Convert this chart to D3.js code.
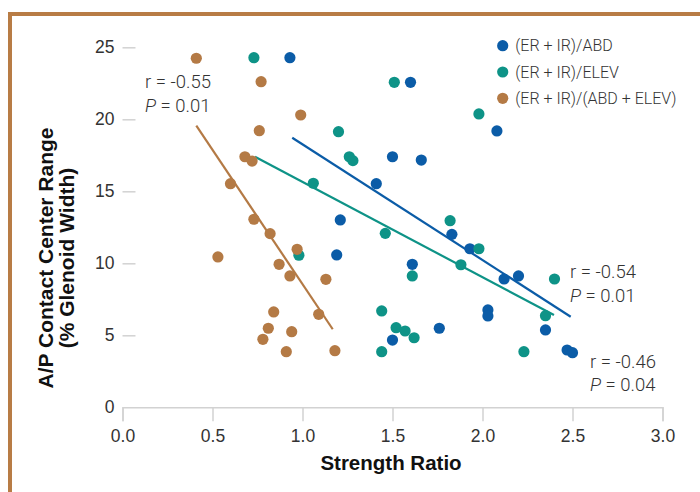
<!DOCTYPE html>
<html>
<head>
<meta charset="utf-8">
<script src="https://cdn.jsdelivr.net/npm/d3@7"></script>
<style>
  body { margin: 0; background: #fff; }
  svg { display: block; font-family: Roboto, "Liberation Sans", sans-serif; }
</style>
</head>
<body>
<script>
// series names (legend order)
const seriesNames = ["(ER + IR)/ABD", "(ER + IR)/ELEV", "(ER + IR)/(ABD + ELEV)"];
const seriesColors = ["#0b5ca7", "#0e9387", "#b47a45"];

// [strength ratio, contact center range]
const abd = [
  [0.93, 24.28], [1.60, 22.57], [2.08, 19.19], [1.50, 17.40], [1.66, 17.17],
  [1.41, 15.53], [1.21, 13.01], [1.83, 12.01], [1.93, 11.01], [1.19, 10.58],
  [1.61, 9.93], [2.12, 8.91], [2.20, 9.12], [2.03, 6.76], [2.03, 6.34],
  [1.76, 5.49], [2.35, 5.37], [1.50, 4.67], [2.47, 3.98], [2.50, 3.79]
];
const elev = [
  [0.73, 24.28], [1.51, 22.57], [1.98, 20.37], [1.20, 19.14], [1.26, 17.40],
  [1.28, 17.13], [1.06, 15.56], [1.82, 12.96], [1.46, 12.08], [1.98, 11.01],
  [0.98, 10.56], [1.61, 9.12], [1.88, 9.90], [2.40, 8.91], [1.44, 6.69],
  [2.35, 6.36], [1.52, 5.53], [1.57, 5.30], [1.62, 4.83], [1.44, 3.86],
  [2.23, 3.86]
];
const abdElev = [
  [0.41, 24.24], [0.77, 22.61], [0.99, 20.30], [0.76, 19.21], [0.68, 17.40],
  [0.72, 17.10], [0.60, 15.53], [0.73, 13.06], [0.82, 12.06], [0.97, 10.97],
  [0.53, 10.44], [0.87, 9.93], [0.93, 9.12], [1.13, 8.89], [0.84, 6.62],
  [1.09, 6.46], [0.81, 5.49], [0.94, 5.25], [0.78, 4.72], [0.91, 3.86],
  [1.18, 3.93]
];

// fitted lines [x1, y1, x2, y2]
const fitLines = [
  [0.943, 18.72, 2.490, 6.29],
  [0.736, 17.40, 2.397, 6.41],
  [0.410, 19.56, 1.168, 5.42]
];

// r / P labels
const statR = ["r = -0.54", "r = -0.46", "r = -0.55"];
const statP = ["0.01", "0.04", "0.01"];

const xTicks = [0, 0.5, 1, 1.5, 2, 2.5, 3];
const yTicks = [0, 5, 10, 15, 20, 25];

const width = 700, height = 492;
const svg = d3.select("body").append("svg")
  .attr("width", width)
  .attr("height", height);

// frame
svg.append("path")
  .attr("d", "M10,492 V14 H700")
  .attr("fill", "none")
  .attr("stroke", "#b87c45")
  .attr("stroke-width", 4);

const x = d3.scaleLinear().domain([0, 3]).range([122.5, 662.5]);
const y = d3.scaleLinear().domain([0, 25]).range([407.3, 47.3]);

const tickColor = "#d2d2d2";
const labelColor = "#333";

// x axis
const gx = svg.append("g")
  .attr("transform", `translate(0,${y(0)})`)
  .call(d3.axisBottom(x).tickValues(xTicks).tickFormat(d3.format(".1f"))
    .tickSizeOuter(0).tickSize(14).tickPadding(8));
gx.select(".domain").attr("stroke", tickColor).attr("stroke-width", 1.5);
gx.selectAll(".tick line").attr("stroke", tickColor).attr("stroke-width", 1.5);
gx.selectAll("text")
  .attr("fill", labelColor)
  .style("font-size", "17.5px")
  .style("font-weight", 300);

// y axis
const gy = svg.append("g")
  .attr("transform", `translate(${x(0)},0)`)
  .call(d3.axisLeft(y).tickValues(yTicks).tickFormat(d3.format("d"))
    .tickSizeOuter(0).tickSizeInner(-13).tickPadding(8));
gy.select(".domain").remove();
gy.selectAll(".tick line").attr("stroke", tickColor).attr("stroke-width", 1.5);
gy.selectAll(".tick").filter(d => d === 0).select("line").remove();
gy.selectAll("text")
  .attr("fill", labelColor)
  .style("font-size", "17.5px")
  .style("font-weight", 300);

// axis titles
svg.append("text")
  .attr("x", 391)
  .attr("y", 470)
  .attr("text-anchor", "middle")
  .attr("fill", "#111")
  .style("font-family", "'Liberation Sans', Arial, sans-serif")
  .style("font-size", "20.5px")
  .style("font-weight", 700)
  .text("Strength Ratio");

const yTitle = svg.append("text")
  .attr("transform", "translate(53,258) rotate(-90)")
  .attr("text-anchor", "middle")
  .attr("fill", "#111")
  .style("font-family", "'Liberation Sans', Arial, sans-serif")
  .style("font-size", "21px")
  .style("font-weight", 700);
yTitle.append("tspan").attr("x", 0).attr("dy", 0).text("A/P Contact Center Range");
yTitle.append("tspan").attr("x", 0).attr("dy", 21).text("(% Glenoid Width)");

// fit lines
svg.append("g")
  .selectAll("line")
  .data(fitLines)
  .join("line")
  .attr("x1", d => x(d[0]))
  .attr("y1", d => y(d[1]))
  .attr("x2", d => x(d[2]))
  .attr("y2", d => y(d[3]))
  .attr("stroke", (d, i) => seriesColors[i])
  .attr("stroke-width", 2.2);

// dots
const series = [abd, elev, abdElev];
series.forEach((pts, i) => {
  svg.append("g")
    .selectAll("circle")
    .data(pts)
    .join("circle")
    .attr("cx", d => x(d[0]))
    .attr("cy", d => y(d[1]))
    .attr("r", 5.6)
    .attr("fill", seriesColors[i]);
});

// stats labels
const statPos = [[x(2.486), y(8.96)], [x(2.597), y(2.73)], [x(0.125), y(22.15)]];
statR.forEach((r, i) => {
  const [sx, sy] = statPos[i];
  const t = svg.append("g")
    .attr("transform", `translate(${sx},${sy})`)
    .attr("fill", labelColor)
    .style("font-size", "18.5px")
    .style("font-weight", 300);
  t.append("text").text(r);
  const p = t.append("text").attr("y", 23.5);
  p.append("tspan").style("font-style", "italic").text("P");
  p.append("tspan").text(" = " + statP[i]);
});

// legend
const legend = svg.append("g")
  .selectAll("g")
  .data(seriesNames)
  .join("g")
  .attr("transform", (d, i) => `translate(502.7,${45.7 + i * 26.3})`);
legend.append("circle")
  .attr("r", 5.6)
  .attr("fill", (d, i) => seriesColors[i]);
legend.append("text")
  .attr("x", 12.5)
  .attr("dy", "0.35em")
  .attr("fill", labelColor)
  .style("font-size", "16px")
  .style("font-weight", 300)
  .text(d => d);
</script>
</body>
</html>
